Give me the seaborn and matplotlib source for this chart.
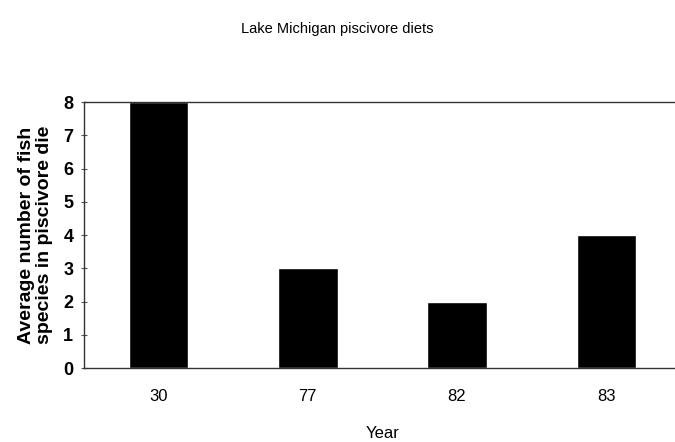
import seaborn as sns
import matplotlib.pyplot as plt
import pandas as pd

# Data
years = ['30', '77', '82', '83']
species = [8, 3, 2, 4]

df = pd.DataFrame({'Year': years, 'Species': species})

sns.set_style("white")
plt.rcParams['font.family'] = ['Liberation Sans', 'DejaVu Sans']

fig = plt.figure(figsize=(6.75, 4.42), dpi=100)
ax = fig.add_axes([0.124, 0.167, 0.885, 0.602])

sns.barplot(x='Year', y='Species', data=df, color='black', width=0.4,
            saturation=1, ax=ax)

ax.set_ylim(0, 8)
ax.set_yticks(range(0, 9))
ax.set_xlim(-0.5, 3.5)

for s in ['left', 'bottom', 'top', 'right']:
    ax.spines[s].set_color('#333333')
    ax.spines[s].set_linewidth(1.0)

ax.tick_params(axis='y', direction='inout', length=5, width=0.8, color='#555555',
               labelsize=13, labelcolor='black', pad=5, left=True)
ax.tick_params(axis='x', length=0, labelsize=12, labelcolor='black', pad=15)
for lbl in ax.get_yticklabels():
    lbl.set_fontweight('bold')

ax.set_xlabel('Year', fontsize=12, labelpad=16, color='black')
ax.set_ylabel('Average number of fish\nspecies in piscivore die', fontsize=14,
              fontweight='bold', labelpad=7, linespacing=1.1, color='black')

fig.suptitle('Lake Michigan piscivore diets', fontsize=10.5, y=0.95, color='black')

fig.savefig('out.png', dpi=100)
